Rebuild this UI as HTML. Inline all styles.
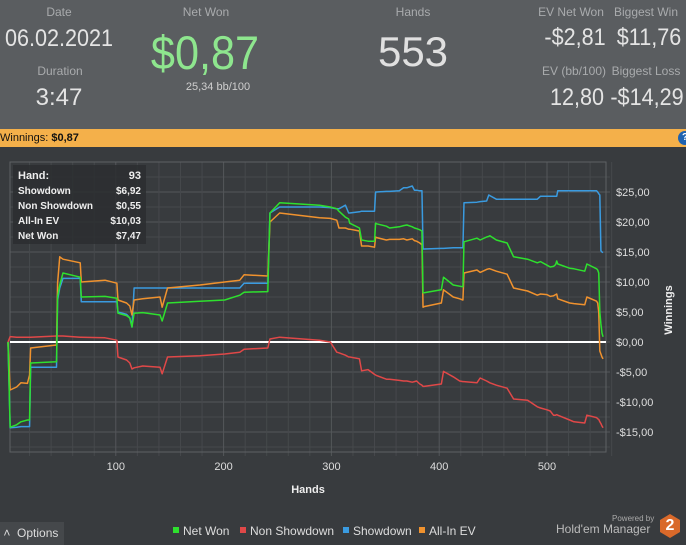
<!DOCTYPE html>
<html><head><meta charset="utf-8">
<style>
body{margin:0;width:686px;height:545px;overflow:hidden;background:#383b3e;font-family:"Liberation Sans","DejaVu Sans",sans-serif;position:relative}
.hd{position:absolute;left:0;top:0;width:686px;height:129px;background:#5a5d60}
.t{position:absolute;transform:translateX(-50%);white-space:nowrap;color:#d0d0d0}
.lab{font-size:12px;color:#a9abad}
.big{font-size:24px;color:#e4e4e4}
.rb{font-size:24px;color:#e4e4e4;transform:translateX(-50%) scaleX(0.9)}
.bar{position:absolute;left:0;top:129px;width:686px;height:18px;background:#f4b04a;font-size:11px;color:#111;line-height:18px}
</style></head><body>
<div class="hd">
<div class="t lab" style="left:59px;top:5px">Date</div>
<div class="t big" style="left:59px;top:25px;transform:translateX(-50%) scaleX(0.9)">06.02.2021</div>
<div class="t lab" style="left:60px;top:64px">Duration</div>
<div class="t big" style="left:59px;top:84px">3:47</div>
<div class="t lab" style="left:206px;top:5px">Net Won</div>
<div class="t" style="left:205px;top:25px;font-size:47px;color:#8ee68e;transform:translateX(-50%) scaleX(0.92)">$0,87</div>
<div class="t" style="left:218px;top:81px;font-size:11px;color:#cfcfcf">25,34 bb/100</div>
<div class="t lab" style="left:413px;top:5px">Hands</div>
<div class="t" style="left:413px;top:28px;font-size:42px;color:#e0e0e0">553</div>
<div class="t lab" style="left:571px;top:5px">EV Net Won</div>
<div class="t rb" style="left:575px;top:24px">-$2,81</div>
<div class="t lab" style="left:646px;top:5px">Biggest Win</div>
<div class="t rb" style="left:649px;top:24px">$11,76</div>
<div class="t lab" style="left:574px;top:64px">EV (bb/100)</div>
<div class="t rb" style="left:577px;top:84px">12,80</div>
<div class="t lab" style="left:646px;top:64px">Biggest Loss</div>
<div class="t rb" style="left:647px;top:84px">-$14,29</div>
</div>
<div class="bar">Winnings: <b>$0,87</b>
<div style="position:absolute;right:-6px;top:2px;width:14px;height:14px;border-radius:50%;background:#1e62b0;color:#fff;font-size:10px;line-height:14px;text-align:center;font-weight:bold">?</div></div>
<svg id="c" width="686" height="545" style="position:absolute;left:0;top:0"></svg>
<div style="position:absolute;left:0;top:522px;width:64px;height:23px;background:#45484b;color:#ddd;font-size:12px;line-height:23px">&nbsp;˄&nbsp;&nbsp;Options</div>
<div style="position:absolute;left:612px;top:514px;font-size:8px;color:#aaa">Powered by</div>
<div style="position:absolute;left:556px;top:522px;font-size:12px;color:#bbb">Hold'em Manager</div>
<div style="position:absolute;left:660px;top:514px;width:20px;height:24px;background:#d9692a;clip-path:polygon(50% 0,100% 25%,100% 75%,50% 100%,0 75%,0 25%);color:#fff;font-weight:bold;font-size:16px;text-align:center;line-height:24px">2</div>
<script>
const hands=[0,2,8,12,18,20,21,45,46,48,51,67,68,90,101,102,110,113,115,117,125,141,143,148,178,201,215,219,241,243,252,289,299,305,307,313,316,317,326,328,334,340,341,342,351,354,363,367,370,375,377,379,382,384,385,386,402,404,413,419,422,423,435,438,444,446,447,453,463,469,482,491,494,500,503,506,508,509,510,521,525,535,537,546,547,548,549,550,551,552];
const netWon=[0,-14.2,-13.8,-13.3,-13,-13,-3.5,-3.3,7.5,9.5,11.5,10.8,7.5,7.6,7.3,4.8,4.4,4,2.5,4.8,4.9,4.5,3.5,6.5,6.8,7,7.8,8.3,8.4,21.5,23.2,22.8,22.5,22.2,21.8,20.8,20.5,19.8,19,17,16.8,16.8,19.8,19.7,19.3,19,19.2,19.4,19.5,19.2,19,18.9,18.7,18.5,8.2,8.2,8.7,10.8,9.5,9.3,9.2,16.7,17.3,17,17.5,17.6,17.7,17,16.5,14.2,13.8,13.2,13.4,12.8,12.5,12.6,12.9,13.5,13,12.3,12.2,11.8,13,12.2,12,11.5,5,3,1.5,0.87];
const showdown=[0,-14.3,-14.2,-14.1,-14.1,-14.1,-4.2,-4.2,7,9,10.6,10.6,6.7,6.7,6.7,5,4.6,4,2.5,9,9,9,9,9,9,9,9,9.8,9.8,21.5,22.5,22.5,22.4,22.2,22.2,22.8,21.5,21.5,21.7,21.8,21.8,21.8,25,25,25.1,25.1,25.2,25.7,25.7,26,25.3,25.3,25.2,25.2,15.5,15.5,15.6,15.6,15.7,15.7,15.7,23.2,23.3,23.4,23.5,24.5,24.4,23.8,23.8,23.8,23.8,23.8,24.3,24.3,24.3,24.3,24.3,24.3,25.2,25.2,25.2,25.2,25.2,25.2,25,24.7,24.5,15.2,15,14.9];
const allInEv=[0,-8,-7.5,-6.8,-6.9,-5.5,-1,-0.5,9.8,14.2,13.8,13.2,10,10.3,9.8,7,6.5,6,4.5,7,7.2,7.5,5.8,9,9.5,10,10.3,11.2,11,20,21.5,20.7,20.6,20.3,19,19,18.8,18.8,18.5,16,16,15.8,17.5,17.4,17,17.1,17.1,17.2,17,17.2,16.9,16.8,16.5,16.2,5.8,5.9,6.5,8.7,7.5,7.2,7,11.5,12,11.6,12.1,12.2,12.2,11.8,11.3,9,8.5,7.8,8,7.9,7.6,7.7,7.9,8,7.2,6.5,6.4,6.2,7.5,6.8,6.5,5,-1.5,-2,-2.5,-2.81];
const nonShowdown=[0,0.9,0.8,0.8,0.8,0.8,0.8,1,1,1,1,0.8,0.8,0.7,0.3,-2.5,-3,-3.5,-4.5,-4.3,-4,-4.2,-5.3,-2.5,-2.3,-2,-1.7,-1.2,-1,0.5,0.8,0.3,0,-1.7,-1.8,-2.2,-2.5,-2.5,-2.8,-4.8,-4.6,-5.4,-5.5,-5.6,-6.2,-6.2,-6.4,-6.5,-6.5,-6.7,-6.6,-6.5,-7,-7.2,-7.4,-7.4,-7,-4.9,-5.8,-6.5,-6.6,-6.6,-6.8,-6,-6.5,-6.7,-6.8,-7.2,-7.7,-9.5,-9.7,-10.8,-11,-11.3,-11.5,-12.2,-12.2,-12.1,-12.2,-13,-13.3,-13.5,-12.2,-12.6,-12.8,-12.9,-13.3,-13.6,-14,-14.3];
const xTicks=[100,200,300,400,500];
const yTicks=[25,20,15,10,5,0,-5,-10,-15];
const yLabels=["$25,00","$20,00","$15,00","$10,00","$5,00","$0,00","-$5,00","-$10,00","-$15,00"];
const legendNames=["Net Won","Non Showdown","Showdown","All-In EV"];
const colors=["#2ee02e","#e04848","#3a9be0","#f0922e"];

const L=10,R=606,T=162,B=452;
const X=h=>8+h*1.078, Y=v=>342-v*6.0;
const svg=document.getElementById('c');const NS='http://www.w3.org/2000/svg';
function mk(tag,a,p){const e=document.createElementNS(NS,tag);for(const k in a)e.setAttribute(k,a[k]);(p||svg).appendChild(e);return e;}
const g=mk('g',{});


for(let v=-17.5;v<=27.5;v+=2.5){mk('line',{x1:L,x2:R+4,y1:Y(v),y2:Y(v),stroke:v%5===0?'#54575a':'#46494c','stroke-width':1},g);}
for(let h=20;h<=560;h+=20){mk('line',{x1:X(h),x2:X(h),y1:T,y2:B+4,stroke:h%100===0?'#54575a':'#46494c','stroke-width':1},g);}
mk('rect',{x:L,y:T,width:R-L,height:B-T,fill:'none',stroke:'#5e6164'},g);
xTicks.forEach(t=>{const e=mk('text',{x:X(t),y:470,fill:'#ddd','font-size':11,'text-anchor':'middle'});e.textContent=t;

});
yTicks.forEach((t,i)=>{const e=mk('text',{x:616,y:Y(t)+4,fill:'#ddd','font-size':11});e.textContent=yLabels[i];

});
let e=mk('text',{x:308,y:493,fill:'#eee','font-size':11,'font-weight':'bold','text-anchor':'middle'});e.textContent='Hands';


e=mk('text',{x:0,y:0,fill:'#eee','font-size':11,'font-weight':'bold','text-anchor':'middle',transform:'translate(672,310) rotate(-90)'});e.textContent='Winnings';


e=mk('line',{x1:L,x2:R,y1:Y(0),y2:Y(0),stroke:'#fff','stroke-width':2});


const series=[netWon,nonShowdown,showdown,allInEv];
const order=[1,2,3,0];
const sNames=['net-won-line','non-showdown-line','showdown-line','all-in-ev-line'];
order.forEach(i=>{const pts=[];series[i].forEach((v,j)=>{pts.push(X(hands[j])+','+Y(v));});
const p=mk('polyline',{points:pts.join(' '),fill:'none',stroke:colors[i],'stroke-width':1.5,'stroke-linejoin':'round'});

});
const tg=mk('g',{});


mk('rect',{x:13,y:165,width:133,height:79,fill:'#2c2e30','fill-opacity':0.85},tg);
const rows=[["Hand:","93"],["Showdown","$6,92"],["Non Showdown","$0,55"],["All-In EV","$10,03"],["Net Won","$7,47"]];
rows.forEach((r,i)=>{const a=mk('text',{x:18,y:179+i*15,fill:'#eee','font-size':i?10:11,'font-weight':'bold'},tg);a.textContent=r[0];
const b=mk('text',{x:141,y:179+i*15,fill:'#eee','font-size':i?10:11,'font-weight':'bold','text-anchor':'end'},tg);b.textContent=r[1];});
const lx=[173,240,343,419];
legendNames.forEach((n,i)=>{const lg=mk('g',{});


mk('rect',{x:lx[i],y:527,width:6,height:6,fill:colors[i]},lg);
const t=mk('text',{x:lx[i]+10,y:535,fill:'#ddd','font-size':12},lg);t.textContent=n;});
</script>
</body></html>
